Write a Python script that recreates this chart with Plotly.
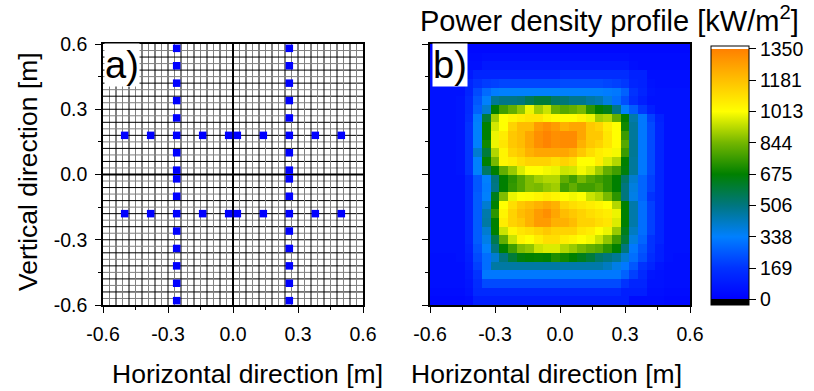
import plotly.graph_objects as go

# ---------------- data ----------------
tick_vals = [-0.6, -0.3, 0.0, 0.3, 0.6]
tick_text = ["-0.6", "-0.3", "0.0", "0.3", "0.6"]

# panel a: measurement points (blue squares)
col_x = [-0.26, 0.26]
col_y = [-0.58, -0.50, -0.42, -0.34, -0.26, -0.18, -0.10, -0.02,
         0.02, 0.10, 0.18, 0.26, 0.34, 0.42, 0.50, 0.58]
row_y = [-0.18, 0.18]
row_x = [-0.50, -0.38, -0.14, -0.02, 0.02, 0.14, 0.38, 0.50]

# panel b: heatmap cell centres and power density [kW/m2], rows from top
cell_x = [-0.58, -0.54, -0.50, -0.46, -0.42, -0.38, -0.34, -0.30, -0.26, -0.22,
          -0.18, -0.14, -0.10, -0.06, -0.02, 0.02, 0.06, 0.10, 0.14, 0.18,
          0.22, 0.26, 0.30, 0.34, 0.38, 0.42, 0.46, 0.50, 0.54, 0.58]
cell_y = [0.58, 0.54, 0.50, 0.46, 0.42, 0.38, 0.34, 0.30, 0.26, 0.22,
          0.18, 0.14, 0.10, 0.06, 0.02, -0.02, -0.06, -0.10, -0.14, -0.18,
          -0.22, -0.26, -0.30, -0.34, -0.38, -0.42, -0.46, -0.50, -0.54, -0.58]
power = [
    [30,30,30,30,30,30,30,30,30,30,30,30,30,30,30,30,30,30,30,30,30,30,30,30,30,30,30,30,30,30],
    [40,40,40,40,40,40,50,50,50,50,50,50,50,50,50,50,50,50,50,50,50,50,50,40,40,40,40,40,40,40],
    [50,50,50,50,50,50,80,80,80,80,80,80,80,80,80,80,80,80,80,80,80,80,80,50,40,40,40,40,40,40],
    [50,50,50,50,80,120,120,120,120,120,120,120,120,120,120,150,150,150,150,150,150,150,150,110,110,50,50,50,50,50],
    [60,60,60,60,120,170,190,200,210,210,210,210,210,210,210,220,220,220,220,220,210,200,180,120,110,60,50,50,50,50],
    [60,60,60,60,120,220,290,330,340,340,340,340,340,340,340,340,340,340,340,340,330,320,270,170,120,70,60,60,60,60],
    [60,60,60,70,140,250,340,480,500,500,510,560,600,600,540,520,490,490,460,440,380,300,230,150,100,60,60,60,60,60],
    [60,60,60,70,140,270,400,675,770,820,880,990,900,950,830,800,820,850,740,675,640,500,340,260,180,100,60,60,60,60],
    [60,60,60,70,150,330,600,900,1013,1040,1060,1080,1080,1040,1020,1013,1013,1040,990,900,920,820,675,450,320,200,110,60,60,60],
    [60,60,60,70,170,340,675,960,1013,1130,1190,1190,1280,1310,1280,1220,1250,1250,1160,1130,1060,1013,700,470,320,220,120,60,60,60],
    [60,60,60,70,170,340,675,990,1060,1160,1190,1250,1310,1340,1310,1320,1320,1250,1160,1160,1080,1013,760,470,320,220,120,60,60,60],
    [60,60,60,70,170,340,700,990,1080,1160,1190,1250,1310,1340,1310,1320,1320,1220,1160,1130,1080,1020,800,480,320,220,120,60,60,60],
    [60,60,60,70,170,400,600,920,1040,1130,1160,1220,1250,1250,1250,1250,1220,1160,1100,1060,1040,1000,760,480,320,220,120,60,60,60],
    [60,60,60,70,170,340,675,850,1040,1060,1100,1130,1130,1130,1100,1130,1100,1013,1013,1060,970,920,675,470,320,220,120,60,60,60],
    [60,60,60,70,170,340,540,675,820,890,970,1013,1013,1000,990,950,960,1000,970,900,820,770,660,470,320,220,120,60,60,60],
    [60,60,60,60,120,250,340,510,675,740,800,860,900,920,920,820,770,850,800,770,740,675,540,400,280,200,120,60,60,60],
    [60,60,60,60,120,250,330,500,675,750,800,860,850,880,900,770,820,770,770,800,740,675,510,380,280,200,120,60,60,60],
    [60,60,60,60,120,260,340,640,860,990,1013,1020,1040,1060,1040,1013,1000,1013,950,920,850,740,510,370,280,170,120,60,60,60],
    [60,60,60,60,120,260,400,675,1013,1100,1160,1190,1220,1250,1220,1130,1100,1080,1060,1040,1013,920,675,450,300,200,120,60,60,60],
    [60,60,60,60,120,260,450,740,1040,1130,1190,1220,1280,1310,1250,1190,1160,1130,1100,1080,1060,990,675,450,300,200,120,60,60,60],
    [60,60,60,60,120,260,460,675,1060,1130,1160,1220,1280,1280,1220,1220,1190,1130,1130,1100,1080,970,675,450,300,200,120,60,60,60],
    [60,60,60,60,120,260,400,675,950,1040,1080,1100,1130,1160,1130,1130,1130,1080,1060,1013,990,890,640,420,300,200,120,60,60,60],
    [60,60,60,60,120,260,370,570,820,950,1040,1013,1060,1100,1100,1060,1040,1013,1000,950,880,770,600,380,280,170,120,60,60,60],
    [60,60,60,60,110,240,340,510,675,770,860,880,950,970,970,920,890,850,820,800,740,675,510,320,250,170,100,60,60,60],
    [50,50,50,60,100,220,300,400,510,600,660,675,680,675,720,700,675,640,600,540,510,480,400,300,230,150,100,60,50,50],
    [50,50,50,50,90,200,300,460,460,460,460,460,460,460,460,450,450,450,450,450,420,370,320,250,170,120,70,50,50,50],
    [50,50,50,50,80,170,320,320,320,320,320,320,320,320,320,320,320,320,320,320,320,320,270,200,140,70,60,50,50,50],
    [50,50,50,50,70,150,220,220,220,220,220,220,220,220,220,220,220,220,220,220,220,220,170,120,120,60,60,50,50,50],
    [40,40,40,40,60,140,140,140,140,140,140,140,140,140,140,140,140,140,140,140,140,140,100,100,100,50,50,40,40,40],
    [30,30,30,30,40,100,100,100,100,100,100,100,100,100,100,100,100,100,100,100,100,100,100,40,40,40,40,30,30,30],
]
cbar_vals = [0, 169, 338, 506, 675, 844, 1013, 1181, 1350]
cbar_text = ["0", "169", "338", "506", "675", "844", "1013", "1181", "1350"]

# ---------------- styling ----------------
W, H = 814, 391
FONT = "Arial, Liberation Sans, sans-serif"
TICK_SIZE = 19.5
TITLE_SIZE = 26.5
zmin, zmax = -30.0, 1366.0
stop_cols = ["rgb(0,0,255)", "rgb(0,50,255)", "rgb(0,128,255)", "rgb(0,118,128)",
             "rgb(0,128,0)", "rgb(115,182,0)", "rgb(255,255,0)", "rgb(255,192,0)",
             "rgb(255,128,0)"]

def frac(v):
    return (v - zmin) / (zmax - zmin)

cscale = [[0.0, "black"], [frac(0) - 1e-6, "black"]]
for v, c in zip(cbar_vals, stop_cols):
    cscale.append([frac(v), c])
cscale += [[frac(1350) + 1e-6, "white"], [1.0, "white"]]

def px(xp):
    return xp / W

def py(yp):
    return 1 - yp / H

ax_a = [px(103), px(363)]
ax_b = [px(430), px(690)]
ay = [py(305), py(44)]

fig = go.Figure()

fig.add_trace(go.Heatmap(
    x=cell_x, y=cell_y, z=power, xaxis="x2", yaxis="y2",
    colorscale=cscale, zmin=zmin, zmax=zmax, zsmooth=False,
    colorbar=dict(
        x=px(711), xanchor="left", xpad=0, ypad=0,
        y=py(175.5), yanchor="middle", lenmode="pixels", len=259,
        thickness=38, outlinewidth=1, outlinecolor="black",
        tickmode="array", tickvals=cbar_vals, ticktext=cbar_text,
        ticks="outside", ticklen=7, tickcolor="black", tickwidth=1,
        tickfont=dict(size=TICK_SIZE, color="black", family=FONT),
    ),
    hoverinfo="skip",
))

fig.add_trace(go.Scatter(
    x=[cx for cx in col_x for _ in col_y] + [rx for _ in row_y for rx in row_x],
    y=[cy for _ in col_x for cy in col_y] + [ry for ry in row_y for _ in row_x],
    mode="markers", xaxis="x", yaxis="y",
    marker=dict(symbol="square", size=7.5, color="rgb(0,0,255)", line=dict(width=0)),
    hoverinfo="skip", showlegend=False,
))

# grid for panel a (cells of 0.03 m)
shapes = []
for k in range(1, 40):
    v = -0.6 + 0.03 * k
    if k == 20:
        continue
    col = "black" if k % 2 == 0 else "#808080"
    shapes.append(dict(type="line", xref="x", yref="y", x0=v, x1=v, y0=-0.6, y1=0.6,
                       line=dict(color=col, width=1), layer="below"))
    shapes.append(dict(type="line", xref="x", yref="y", x0=-0.6, x1=0.6, y0=v, y1=v,
                       line=dict(color=col, width=1), layer="below"))
shapes.append(dict(type="line", xref="x", yref="y", x0=0, x1=0, y0=-0.6, y1=0.6,
                   line=dict(color="black", width=2), layer="below"))
shapes.append(dict(type="line", xref="x", yref="y", x0=-0.6, x1=0.6, y0=0, y1=0,
                   line=dict(color="black", width=2), layer="below"))

axis_common = dict(
    range=[-0.6, 0.6], tickmode="array", tickvals=tick_vals, ticktext=tick_text,
    ticks="outside", ticklen=6, tickwidth=1, tickcolor="black",
    minor=dict(tickmode="array", tickvals=[-0.45, -0.15, 0.15, 0.45],
               ticks="outside", ticklen=3, tickcolor="black", showgrid=False),
    showline=True, linecolor="black", linewidth=1.5, mirror=True,
    showgrid=False, zeroline=False, automargin=False,
    tickfont=dict(size=TICK_SIZE, color="black", family=FONT),
    fixedrange=True,
)

def ann(text, x, y, size, **kw):
    d = dict(text=text, x=px(x), y=py(y), xref="paper", yref="paper",
             xanchor="center", yanchor="middle", showarrow=False,
             font=dict(size=size, family=FONT, color="black"))
    d.update(kw)
    return d

fig.update_layout(
    width=W, height=H, margin=dict(l=0, r=0, t=0, b=0, autoexpand=False),
    paper_bgcolor="white", plot_bgcolor="white", showlegend=False,
    font=dict(family=FONT, color="black"),
    xaxis=dict(axis_common, domain=ax_a, anchor="y", ticklabelstandoff=5),
    yaxis=dict(axis_common, domain=ay, anchor="x", ticklabelstandoff=4),
    xaxis2=dict(axis_common, domain=ax_b, anchor="y2", ticklabelstandoff=5),
    yaxis2=dict(axis_common, domain=ay, anchor="x2", showticklabels=False),
    shapes=shapes,
    annotations=[
        ann("a)", 104, 43, 38, xanchor="left", yanchor="top", bgcolor="white", borderpad=0),
        ann("b)", 432, 43, 38, xanchor="left", yanchor="top", bgcolor="white", borderpad=0),
        ann("Vertical direction [m]", 28, 172, TITLE_SIZE, textangle=-90),
        ann("Horizontal direction [m]", 247, 374, TITLE_SIZE),
        ann("Horizontal direction [m]", 546, 374, TITLE_SIZE),
        ann("Power density profile [kW/m<sup>2</sup>]", 609, 19, 29),
    ],
)

fig.write_html("out.html")
